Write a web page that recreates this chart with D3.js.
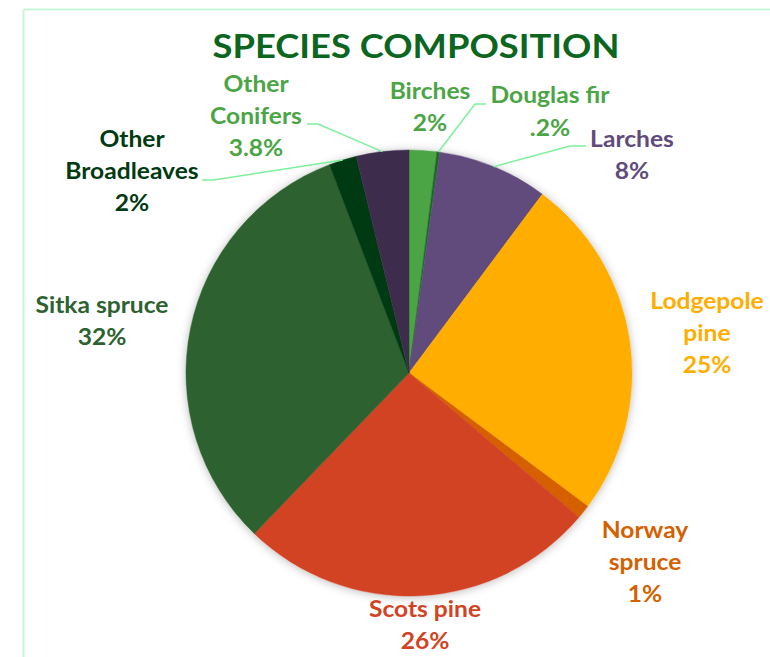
<!DOCTYPE html>
<html><head><meta charset="utf-8">
<script src="https://cdn.jsdelivr.net/npm/d3@7/dist/d3.min.js"></script>
<style>
html,body{margin:0;padding:0;background:#fff;}
svg{display:block;}
text{font-family:Lato,"Open Sans",sans-serif;font-weight:700;}
</style></head>
<body>
<svg id="chart" width="770" height="657"></svg>
<script>
// ---- data ----
const categories = ["Birches","Douglas fir","Larches","Lodgepole pine","Norway spruce","Scots pine","Sitka spruce","Other Broadleaves","Other Conifers"];
const values = [2, 0.2, 8, 25, 1, 26, 32, 2, 3.8];
const valueLabels = ["2%", ".2%", "8%", "25%", "1%", "26%", "32%", "2%", "3.8%"];
const sliceColors = ["#4ba545","#1d6a27","#604b7c","#ffae00","#d65f00","#d24324","#2d6130","#003a12","#3d2c4b"];
const labelColors = ["#4ba545","#4ba545","#604b7c","#ffae00","#d65f00","#d24324","#2d6130","#003a12","#4ba545"];
const titleText = "SPECIES COMPOSITION";

// ---- layout (label placement) ----
const labelLines = [["Birches"],["Douglas fir"],["Larches"],["Lodgepole","pine"],["Norway","spruce"],["Scots pine"],["Sitka spruce"],["Other","Broadleaves"],["Other","Conifers"]];
const labelPos = [[430,99],[550,103],[632,147],[707,309],[645,538],[425,617],[102,313],[132,147],[256,92]];
const leaderElbows = {1:[[475,104],[486,104]], 2:[[570,146],[586,146]], 7:[[213,180],[202,180]], 8:[[318,124],[307,124]]};
const cx = 409, cy = 373, R = 223, lineStep = 32;

const svg = d3.select("#chart");
const defs = svg.append("defs");
const f = defs.append("filter").attr("id","shadow").attr("x","-20%").attr("y","-20%").attr("width","140%").attr("height","140%");
f.append("feDropShadow").attr("dx",0).attr("dy",1).attr("stdDeviation",5).attr("flood-color","#000").attr("flood-opacity",0.28);

// frame lines
svg.append("line").attr("x1",23.5).attr("y1",9.5).attr("x2",770).attr("y2",9.5).attr("stroke","#c5f7d5").attr("stroke-width",2);
svg.append("line").attr("x1",23.5).attr("y1",9.5).attr("x2",23.5).attr("y2",657).attr("stroke","#c5f7d5").attr("stroke-width",2);

// title
const title = svg.append("text").attr("x",416).attr("y",58).attr("text-anchor","middle")
  .attr("fill","#0c6620").style("font-size","32px").text(titleText);
title.attr("textLength",407).attr("lengthAdjust","spacingAndGlyphs");

const pie = d3.pie().sort(null).value(d=>d).startAngle(0).endAngle(2*Math.PI);
const arcs = pie(values);
const arc = d3.arc().innerRadius(0).outerRadius(R);

const g = svg.append("g").attr("transform",`translate(${cx},${cy})`);
const shadowG = g.append("g").attr("filter","url(#shadow)");
shadowG.append("circle").attr("r",R).attr("fill","#fff");
g.selectAll("path.slice").data(arcs).enter().append("path").attr("class","slice")
  .attr("d",arc).attr("fill",(d,i)=>sliceColors[i]).attr("stroke",(d,i)=>sliceColors[i]).attr("stroke-width",0.5);

// leader lines
Object.keys(leaderElbows).forEach(k=>{
  const i = +k; const a = (arcs[i].startAngle+arcs[i].endAngle)/2;
  const p0 = [cx + R*Math.sin(a), cy - R*Math.cos(a)];
  const pts = [p0].concat(leaderElbows[k]);
  svg.append("path").attr("d",d3.line()(pts)).attr("fill","none").attr("stroke","#7ef09c").attr("stroke-width",1.5);
});

// labels
const ratioRef = svg.append("text").style("font-size","23px").text("Sitka spruce");
const ratio = 133 / ratioRef.node().getComputedTextLength();
ratioRef.remove();
categories.forEach((c,i)=>{
  const lines = labelLines[i].concat([valueLabels[i]]);
  lines.forEach((ln,j)=>{
    const t = svg.append("text").attr("x",labelPos[i][0]).attr("y",labelPos[i][1]+j*(i===1?33:lineStep))
      .attr("text-anchor","middle").attr("fill",labelColors[i]).style("font-size","23px").text(ln);
    const w = t.node().getComputedTextLength();
    t.attr("textLength",w*ratio).attr("lengthAdjust","spacingAndGlyphs");
  });
});
</script>
</body></html>
